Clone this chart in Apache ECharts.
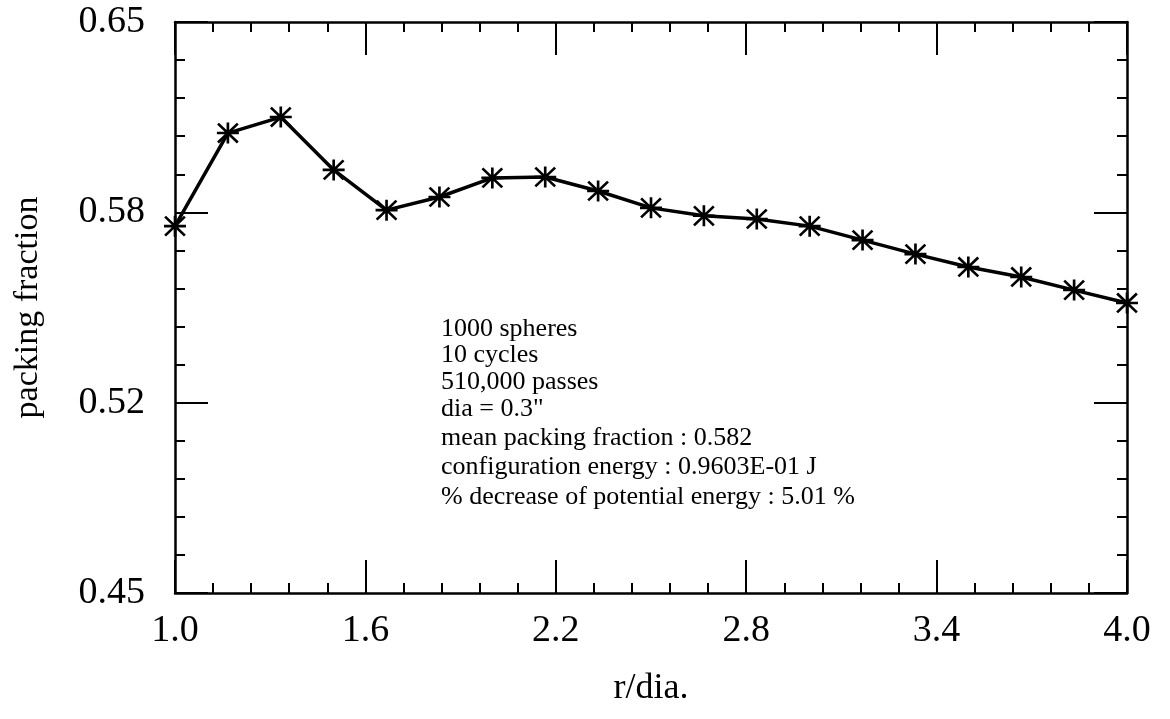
<!DOCTYPE html>
<html>
<head>
<meta charset="utf-8">
<script src="https://cdn.jsdelivr.net/npm/echarts@6/dist/echarts.min.js"></script>
<style>
html,body{margin:0;padding:0;background:#fff;}
#c{width:1170px;height:719px;}
</style>
</head>
<body>
<div id="c"></div>
<script>
// r/dia. values (step 1/6)
const rDia = [1.0, 7/6, 8/6, 1.5, 10/6, 11/6, 2.0, 13/6, 14/6, 2.5, 16/6, 17/6, 3.0, 19/6, 20/6, 3.5, 22/6, 23/6, 4.0];
// packing fraction values
const packing = [0.5785, 0.6111, 0.6167, 0.5982, 0.5841, 0.5887, 0.5954, 0.5957, 0.5908, 0.5849, 0.5821, 0.5810, 0.5785, 0.5736, 0.5687, 0.5642, 0.5607, 0.5561, 0.5516];
const xTicks = {min: 1.0, max: 4.0, interval: 0.6};
const yTicks = {min: 0.45, max: 0.65, interval: 0.2 / 3};
const notes = [
  '1000 spheres',
  '10 cycles',
  '510,000 passes',
  'dia = 0.3"',
  'mean packing fraction : 0.582',
  'configuration energy : 0.9603E-01 J',
  '% decrease of potential energy : 5.01 %'
];
const noteTops = [316, 342, 369, 396, 425, 454, 484];

const FONT = 'Liberation Serif';
const chart = echarts.init(document.getElementById('c'));
const tickCommon = {inside: true, length: 33, lineStyle: {color: '#000', width: 2}};
const minorCommon = {show: true, splitNumber: 5, length: 10, lineStyle: {color: '#000', width: 2}};
const lineCommon = {show: true, onZero: false, lineStyle: {color: '#000', width: 2.5}};

const xBase = {
  type: 'value', min: xTicks.min, max: xTicks.max, interval: xTicks.interval,
  axisLine: lineCommon, axisTick: tickCommon, minorTick: minorCommon, splitLine: {show: false}
};
const yBase = {
  type: 'value', min: yTicks.min, max: yTicks.max, interval: yTicks.interval,
  axisLine: lineCommon, axisTick: tickCommon, minorTick: minorCommon, splitLine: {show: false}
};

const asterisk = 'path://M10,0L10,20M1,1L19,19M1,19L19,1M0,10L20,10';

chart.setOption({
  animation: false,
  backgroundColor: '#fff',
  grid: {left: 175, right: 43, top: 22, bottom: 126},
  xAxis: [
    Object.assign({}, xBase, {
      position: 'bottom',
      name: 'r/dia.', nameLocation: 'middle', nameGap: 78,
      nameTextStyle: {fontFamily: FONT, fontSize: 36, color: '#000'},
      axisLabel: {fontFamily: FONT, fontSize: 38, color: '#000', margin: 19,
        formatter: v => v.toFixed(1)}
    }),
    Object.assign({}, xBase, {position: 'top', axisLabel: {show: false}})
  ],
  yAxis: [
    Object.assign({}, yBase, {
      position: 'left',
      name: 'packing fraction', nameLocation: 'middle', nameGap: 130,
      nameTextStyle: {fontFamily: FONT, fontSize: 34, color: '#000'},
      axisLabel: {fontFamily: FONT, fontSize: 38, color: '#000', margin: 30,
        formatter: v => v.toFixed(2)}
    }),
    Object.assign({}, yBase, {position: 'right', axisLabel: {show: false}})
  ],
  series: [{
    type: 'line',
    xAxisIndex: 0, yAxisIndex: 0,
    data: rDia.map((x, i) => [x, packing[i]]),
    lineStyle: {color: '#000', width: 3.5},
    symbol: asterisk,
    symbolSize: [22, 21],
    itemStyle: {color: '#000', borderColor: '#000', borderWidth: 2.6},
    clip: false
  }],
  graphic: notes.map((t, i) => ({
    type: 'text',
    left: 441,
    top: noteTops[i],
    style: {text: t, fontFamily: FONT, fontSize: 26, fill: '#000'}
  }))
});
</script>
</body>
</html>
